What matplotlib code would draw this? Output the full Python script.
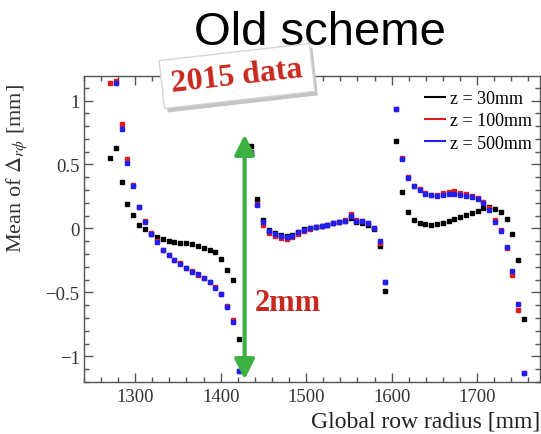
import numpy as np
import matplotlib
matplotlib.use('Agg')
import matplotlib.pyplot as plt
from matplotlib import transforms
from matplotlib.lines import Line2D
from matplotlib.ticker import MultipleLocator

plt.rcParams['font.family'] = ['Liberation Serif', 'DejaVu Serif']
plt.rcParams['mathtext.fontset'] = 'stix'

nan = np.nan

# pad-row radius [mm]: three readout sections
radius = [1271, 1278, 1285, 1291, 1298, 1305, 1312, 1319, 1325, 1332, 1339, 1346,
          1353, 1359, 1366, 1373, 1380, 1387, 1393, 1400, 1407, 1414, 1421,
          1436, 1443, 1450, 1456, 1463, 1470, 1477, 1484, 1490, 1497, 1504, 1511,
          1518, 1524, 1531, 1538, 1545, 1552, 1558, 1565, 1572, 1579, 1586, 1592,
          1605, 1612, 1619, 1626, 1633, 1639, 1646, 1653, 1660, 1667, 1673, 1680,
          1687, 1694, 1701, 1707, 1714, 1721, 1728, 1735, 1741, 1748, 1755]

# mean r-phi distortion [mm] for each z slice
mean_z30 = [0.55, 0.63, 0.36, 0.195, 0.104, 0.03, -0.008, -0.047, -0.065, -0.086,
            -0.10, -0.107, -0.112, -0.117, -0.125, -0.135, -0.15, -0.165, -0.18,
            -0.237, -0.326, -0.406, -0.86,
            0.643, 0.227, 0.07, -0.01, -0.035, -0.05, -0.055, -0.05, -0.025, -0.005,
            0.005, 0.015, 0.022, 0.03, 0.04, 0.048, 0.058, 0.085, 0.05, 0.045, 0.03,
            -0.005, -0.135, -0.49,
            0.68, 0.284, 0.128, 0.07, 0.045, 0.033, 0.03, 0.035, 0.045, 0.058, 0.072,
            0.088, 0.104, 0.12, 0.14, 0.16, 0.17, 0.155, 0.128, 0.076, -0.04, -0.25,
            -0.71]
mean_z100 = [1.14, 1.15, 0.82, 0.54, 0.34, 0.17, 0.055, -0.035, -0.10, -0.165,
             -0.205, -0.245, -0.272, -0.31, -0.335, -0.365, -0.385, -0.418, -0.46,
             -0.512, -0.607, -0.716, -1.11,
             0.60, 0.19, 0.03, -0.035, -0.06, -0.075, -0.08, -0.07, -0.045, -0.02,
             -0.005, 0.008, 0.02, 0.03, 0.042, 0.05, 0.065, 0.11, 0.07, 0.06, 0.042,
             0.0, -0.11, -0.42,
             0.93, 0.55, 0.40, 0.335, 0.305, 0.275, 0.265, 0.262, 0.28, 0.288, 0.29,
             0.28, 0.27, 0.255, 0.235, 0.21, 0.16, 0.07, -0.01, -0.15, -0.36, -0.64,
             -1.13]
mean_z500 = [nan, 1.14, 0.78, 0.51, 0.33, 0.166, 0.05, -0.04, -0.107, -0.17,
             -0.209, -0.248, -0.276, -0.3125, -0.339, -0.359, -0.39, -0.42, -0.463,
             -0.516, -0.612, -0.732, -1.115,
             0.586, 0.18, 0.05, -0.02, -0.045, -0.06, -0.065, -0.06, -0.03, -0.012,
             0.0, 0.01, 0.02, 0.03, 0.04, 0.048, 0.06, 0.095, 0.062, 0.055, 0.04,
             0.005, -0.10, -0.415,
             0.93, 0.54, 0.396, 0.33, 0.30, 0.27, 0.258, 0.253, 0.265, 0.272, 0.273,
             0.265, 0.255, 0.245, 0.227, 0.2, 0.148, 0.05, -0.02, -0.146, -0.333,
             -0.594, -1.13]

labels = ['z = 30mm', 'z = 100mm', 'z = 500mm']
colors = ['black', '#e31a1c', '#1f1ff0']

fig = plt.figure(figsize=(5.41, 4.35), dpi=100)
ax = fig.add_axes([0.155, 0.1195, 0.844, 0.703])

for vals, col in zip([mean_z30, mean_z100, mean_z500], colors):
    ax.plot(radius, vals, ls='none', marker='s', ms=3, mfc=col, mec=col)

ax.set_xlim(1240, 1774)
ax.set_ylim(-1.2, 1.19)
ax.xaxis.set_major_locator(MultipleLocator(100))
ax.xaxis.set_minor_locator(MultipleLocator(20))
ax.yaxis.set_minor_locator(MultipleLocator(0.1))
ax.set_yticks([-1, -0.5, 0, 0.5, 1])
ax.set_yticklabels(['\u22121', '\u22120.5', '0', '0.5', '1'])
ax.tick_params(which='both', direction='in', top=True, right=True,
               color='#555555', labelcolor='#333333', labelsize=13.5)
ax.tick_params(which='major', length=6.5, width=1)
ax.tick_params(which='minor', length=3.5, width=1)
ax.tick_params(axis='x', pad=4)
ax.tick_params(axis='y', pad=3)
for sp in ax.spines.values():
    sp.set_color('#555555')
    sp.set_linewidth(1)

ax.set_ylabel(r'Mean of $\Delta_{r\phi}$ [mm]', fontsize=16, color='#333333')
ax.yaxis.set_label_coords(-0.12, 0.70)
ax.set_xlabel('Global row radius [mm]', fontsize=17, color='#222222', loc='right')
ax.xaxis.set_label_coords(1.0, -0.093)

handles = [Line2D([], [], color=c, lw=1.5) for c in colors]
ax.legend(handles, labels, loc='upper right', bbox_to_anchor=(0.981, 0.955),
          frameon=False, fontsize=13, handlelength=1.1, handletextpad=0.25,
          labelspacing=0.3, borderpad=0, borderaxespad=0)

# 2 mm scale arrow
ax.annotate('', xy=(1428, 0.734), xytext=(1428, -1.18),
            arrowprops=dict(arrowstyle='<|-|>,head_length=0.6,head_width=0.3',
                            color='#3cb043', lw=3, mutation_scale=20,
                            shrinkA=0, shrinkB=0),
            annotation_clip=False)
ax.text(1440, -0.64, '2mm', color='#c8281e', fontsize=22, fontweight='bold',
        ha='left', va='baseline')

fig.text(0.591, 0.897, 'Old scheme', family='Liberation Sans', fontsize=34,
         ha='center', va='baseline')

# tilted "2015 data" stamp with a soft drop shadow
stamp = dict(fontsize=23, fontweight='bold', rotation=6.5, ha='center',
             va='center', rotation_mode='anchor', zorder=10)
shadow_tr = transforms.offset_copy(fig.transFigure, fig=fig, x=3, y=-4,
                                   units='dots')
fig.text(0.438, 0.823, '2015 data', color='none', transform=shadow_tr,
         bbox=dict(boxstyle='square,pad=0.3', fc='#c4c4c4', ec='none'), **stamp)
fig.text(0.438, 0.823, '2015 data', color='#c8281e',
         bbox=dict(boxstyle='square,pad=0.3', fc='white', ec='#d4d4d4', lw=1),
         **stamp)

fig.savefig('out.png', dpi=100)
